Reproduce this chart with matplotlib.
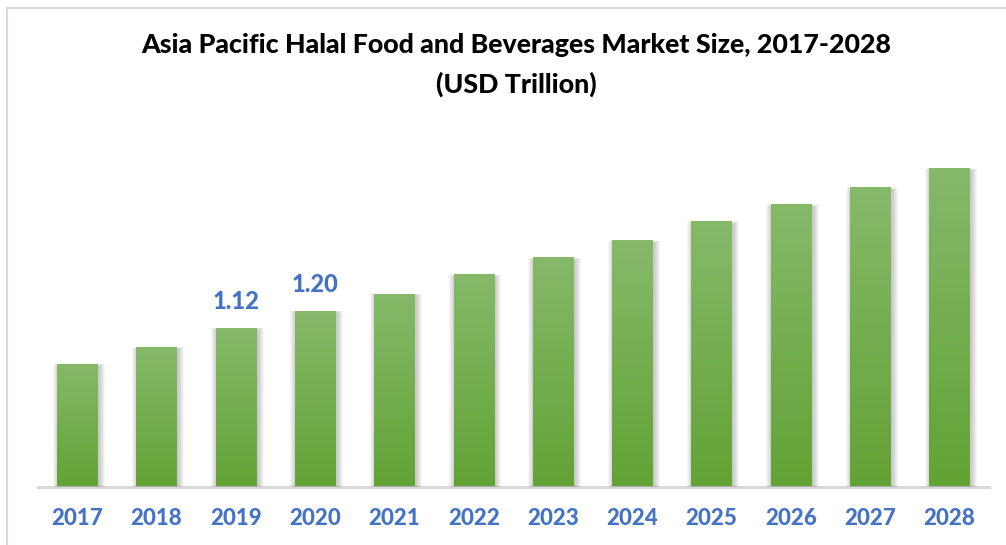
import numpy as np
import matplotlib
matplotlib.use("Agg")
import matplotlib.pyplot as plt
from matplotlib.lines import Line2D
from matplotlib.patches import Rectangle
from matplotlib.colors import LinearSegmentedColormap

# Market size by year (USD trillion)
years = ["2017", "2018", "2019", "2020", "2021", "2022",
         "2023", "2024", "2025", "2026", "2027", "2028"]
market_size = [0.95, 1.03, 1.12, 1.20, 1.28, 1.37,
               1.45, 1.53, 1.62, 1.70, 1.78, 1.87]
labeled_years = ["2019", "2020"]

title_line1 = "Asia Pacific Halal Food and Beverages Market Size, 2017-2028"
title_line2 = "(USD Trillion)"

FONT = ["Lato", "DejaVu Sans"]
BLUE = "#4472C4"
WEIGHT = 900

W, H = 1006, 545
fig = plt.figure(figsize=(W / 100, H / 100), dpi=100)
fig.patch.set_facecolor("white")

# axes box in pixels
ax_left, ax_right = 37.6, 989.2
ax_bottom, ax_top = 486.5, 150.0
ax = fig.add_axes([ax_left / W, (H - ax_bottom) / H,
                   (ax_right - ax_left) / W, (ax_bottom - ax_top) / H])

y_min = 0.372
px_per_unit = 212.5
y_max = y_min + (ax_bottom - ax_top) / px_per_unit
ax.set_xlim(-0.5, len(years) - 0.5)
ax.set_ylim(y_min, y_max)

x = np.arange(len(years))
bar_w = 0.51

# conversion from pixels to data units for the soft shadows
px_x = (len(years)) / (ax_right - ax_left)
px_y = 1.0 / px_per_unit

bars = ax.bar(x, np.array(market_size) - y_min, bottom=y_min, width=bar_w,
              color="none", edgecolor="none", zorder=3)

# soft drop shadow behind each bar, strongest on the sides
for rect in bars:
    bx, by = rect.get_x(), rect.get_y()
    bw, bh = rect.get_width(), rect.get_height()
    for k in range(1, 7):
        pad_x, pad_y = k * px_x, k * px_y
        ax.add_patch(Rectangle((bx - pad_x + 1.5 * px_x, by),
                               bw + 2 * pad_x, bh + 0.4 * pad_y - 2.5 * px_y,
                               facecolor="#000000", alpha=0.035,
                               edgecolor="none", zorder=2, clip_on=False))

# vertical green gradient fill
green = LinearSegmentedColormap.from_list("green", ["#62A335", "#86B96A"])
grad = np.linspace(0, 1, 256).reshape(-1, 1)
for rect in bars:
    bx, by = rect.get_x(), rect.get_y()
    bw, bh = rect.get_width(), rect.get_height()
    im = ax.imshow(grad, cmap=green, origin="lower", aspect="auto",
                   extent=(bx, bx + bw, by, by + bh), zorder=3,
                   interpolation="bilinear")
    im.set_clip_path(rect)

ax.set_xlim(-0.5, len(years) - 0.5)
ax.set_ylim(y_min, y_max)

# value labels
for xi, yr, v in zip(x, years, market_size):
    if yr in labeled_years:
        ax.text(xi, v + 26 * px_y, f"{v:.2f}", ha="center", va="center",
                color=BLUE, fontsize=17, fontweight=WEIGHT, family=FONT)

for s in ["top", "right", "left"]:
    ax.spines[s].set_visible(False)
ax.spines["bottom"].set_color("#D9D9D9")
ax.spines["bottom"].set_linewidth(2.2)
ax.spines["bottom"].set_zorder(1)
ax.set_yticks([])
ax.set_xticks(x, years)
ax.tick_params(axis="x", length=0, pad=15.5)
for lab in ax.get_xticklabels():
    lab.set_color(BLUE)
    lab.set_fontsize(16)
    lab.set_fontweight(WEIGHT)
    lab.set_family(FONT)
ax.set_facecolor("none")

# title
fig.text(516 / W, 1 - 45 / H, title_line1, ha="center", va="center",
         fontsize=19.3, fontweight=WEIGHT, family=FONT, color="black")
fig.text(516 / W, 1 - 84 / H, title_line2, ha="center", va="center",
         fontsize=19.3, fontweight=WEIGHT, family=FONT, color="black")

# chart frame
fig.add_artist(Line2D([7 / W, 1.0], [1 - 8 / H, 1 - 8 / H],
                      transform=fig.transFigure, color="#D9D9D9", lw=1.6))
fig.add_artist(Line2D([7 / W, 7 / W], [0.0, 1 - 8 / H],
                      transform=fig.transFigure, color="#D9D9D9", lw=1.6))

fig.savefig("out.png", dpi=100, facecolor="white")
